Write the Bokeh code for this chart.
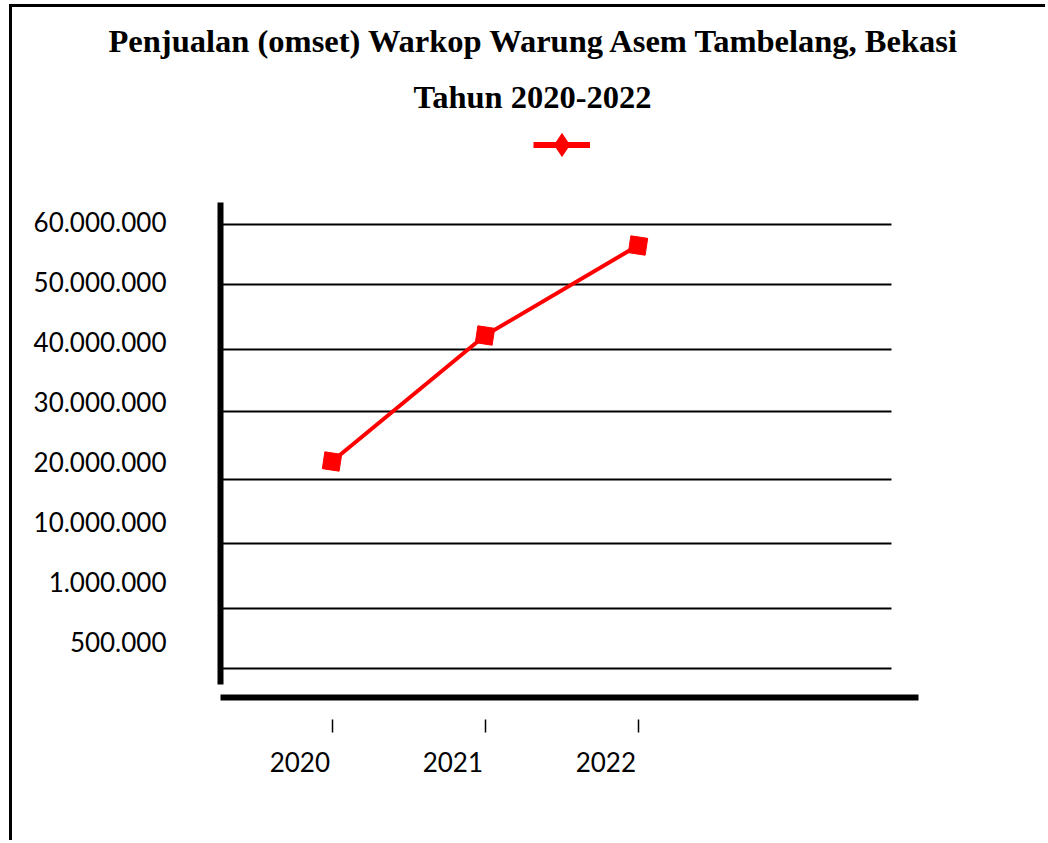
from bokeh.plotting import figure
from bokeh.models import (Range1d, FixedTicker, LinearAxis, Title, Legend, LegendItem, Grid)
from bokeh.embed import file_html
from bokeh.resources import INLINE
from bokeh.core.properties import value

# ---------------- data ----------------
years = [2020, 2021, 2022]
omset = [20_000_000, 41_000_000, 56_000_000]
y_tick_values = [-10_000_000, 0, 10_000_000, 20_000_000, 30_000_000,
                 40_000_000, 50_000_000, 60_000_000]
y_tick_labels = ["500.000", "1.000.000", "10.000.000", "20.000.000", "30.000.000",
                 "40.000.000", "50.000.000", "60.000.000"]
title_line1 = "Penjualan (omset) Warkop Warung Asem Tambelang, Bekasi"
title_line2 = "Tahun 2020-2022"

# ---------------- layout constants ----------------
GRID_POS = [59.42e6, 49.5e6, 38.62e6, 28.33e6, 17.0e6, 6.33e6, -4.5e6, -14.58e6]
LABEL_SHIFT = -0.21
X_START, X_END = 2019.2712, 2023.8333
GRID_X_END = 2023.6569
Y_START, Y_END = -19.33e6, 75.5e6
Y_AXIS_LOW, Y_AXIS_HIGH = -17.17e6, 63.22e6

LABEL_FONT = "Lato"
TITLE_FONT = "Liberation Serif"

p = figure(width=1036, height=836, output_backend="svg", toolbar_location=None,
           title=None, x_range=Range1d(X_START, X_END), y_range=Range1d(Y_START, Y_END),
           x_axis_type=None, y_axis_type=None,
           min_border_left=208, min_border_right=130, min_border_top=121,
           min_border_bottom=146)
p.outline_line_color = None
p.background_fill_color = "white"
p.border_fill_color = "white"
# picture frame: top and left border lines
p.styles = {"border-top": "3px solid black", "border-left": "3px solid black",
            "margin-left": "9px", "margin-top": "4px"}
# a range used only by the legend-sample renderers (their points fall outside the frame)
p.extra_x_ranges = {"legend_only": Range1d(0, 1)}

# y axis
yaxis = LinearAxis(ticker=FixedTicker(ticks=y_tick_values),
                   major_label_overrides=dict(zip(y_tick_values, y_tick_labels)),
                   axis_line_width=6, axis_line_color="black",
                   major_tick_line_color=None, minor_tick_line_color=None,
                   major_tick_out=0, major_tick_in=0,
                   major_label_standoff=54,
                   major_label_text_font=LABEL_FONT,
                   major_label_text_font_size="26px",
                   major_label_text_color="black",
                   bounds=(Y_AXIS_LOW, Y_AXIS_HIGH))
p.add_layout(yaxis, "left")

# horizontal grid lines (shorter than the x axis line)
grid = Grid(dimension=1, ticker=FixedTicker(ticks=GRID_POS),
            grid_line_color="black", grid_line_width=2,
            cross_bounds=(X_START, GRID_X_END))
p.add_layout(grid)

# x axis: tick marks at the years (minor ticks), labels shifted left (major ticks)
label_ticks = [y + LABEL_SHIFT for y in years]
xaxis = LinearAxis(ticker=FixedTicker(ticks=label_ticks, minor_ticks=years),
                   major_label_overrides={t: str(y) for t, y in zip(label_ticks, years)},
                   axis_line_width=6, axis_line_color="black",
                   major_tick_line_color=None, major_tick_in=0, major_tick_out=0,
                   minor_tick_in=-22, minor_tick_out=35,
                   minor_tick_line_width=1.5, minor_tick_line_color="black",
                   major_label_standoff=19,
                   major_label_text_font=LABEL_FONT,
                   major_label_text_font_size="26px",
                   major_label_text_color="black")
p.add_layout(xaxis, "below")

# data
p.line(years, omset, line_color="red", line_width=4)
p.scatter(years, omset, marker="square", size=17, angle=-0.15,
          fill_color="red", line_color="red")

# legend sample (glyph only, as in the original)
leg_line = p.line(years, omset, line_color="red", line_width=6, x_range_name="legend_only")
leg_mark = p.scatter(years, omset, marker="diamond", size=23, fill_color="red",
                     line_color="red", x_range_name="legend_only")
legend = Legend(items=[LegendItem(label=value(" "), renderers=[leg_line, leg_mark])],
                location=(313, 524), orientation="horizontal",
                glyph_width=57, glyph_height=57, label_width=0,
                label_standoff=0, padding=0, spacing=0, margin=0,
                border_line_color=None, background_fill_alpha=0,
                label_text_font_size="12px")
p.add_layout(legend)

t2 = Title(text=title_line2, align="left", offset=193, text_font=TITLE_FONT,
           text_font_size="32.5px", text_font_style="bold", text_color="black", standoff=28)
p.add_layout(t2, "above")
t1 = Title(text=title_line1, align="left", offset=-112, text_font=TITLE_FONT,
           text_font_size="32.5px", text_font_style="bold", text_color="black", standoff=8)
p.add_layout(t1, "above")

open("out.html", "w").write(file_html(p, INLINE))
